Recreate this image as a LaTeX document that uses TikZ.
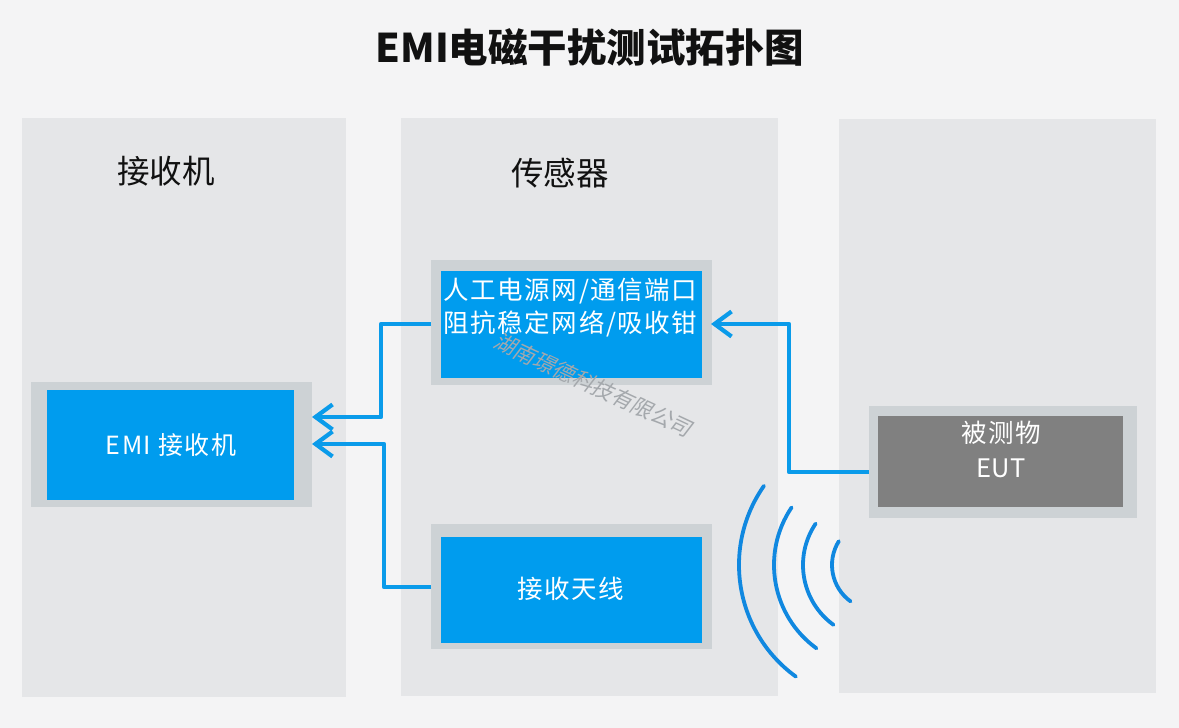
\documentclass[tikz,border=0pt]{standalone}
\usepackage{fontspec}
\usetikzlibrary{arrows.meta}
\setmainfont{Noto Sans CJK SC}
\newfontfamily\labfont[LetterSpace=6]{Noto Sans CJK SC}
\newfontfamily\latfont{Noto Sans CJK SC}
\newfontfamily\markfont[FakeSlant=0.22]{Noto Sans CJK SC}
\definecolor{bgc}{HTML}{F4F4F5}
\definecolor{panelc}{HTML}{E5E6E8}
\definecolor{outerc}{HTML}{CDD2D5}
\definecolor{bluec}{HTML}{009CEE}
\definecolor{grayc}{HTML}{808080}
\definecolor{wirec}{HTML}{0A9BEA}
\definecolor{wavec}{HTML}{1088E0}
\definecolor{titlec}{HTML}{111111}
\definecolor{markc}{HTML}{A4A8AC}
\tikzset{
  box/.style={anchor=north west,inner sep=0pt,outer sep=0pt,fill=#1},
  head/.style={anchor=center,inner sep=0pt,text=titlec,font=\fontsize{32.5}{38}\selectfont},
  lab/.style={anchor=center,inner sep=0pt,text=white,font=\labfont\fontsize{25.5}{30}\selectfont},
  wire/.style={draw=wirec,line width=4.2pt,line join=round},
  tip/.style={wire,-{Straight Barb[length=17pt,width=25pt,line width=4.2pt]}},
  wave/.style={draw=wavec,line width=3.8pt,line cap=round}
}
\begin{document}
\begin{tikzpicture}[x=1pt,y=-1pt]
\useasboundingbox (0,0) rectangle (1179,728);
\fill[bgc] (0,0) rectangle (1179,728);
\node[box=panelc,minimum width=324pt,minimum height=579pt] (p1) at (22,118) {};
\node[box=panelc,minimum width=377pt,minimum height=578pt] (p2) at (401,118) {};
\node[box=panelc,minimum width=317pt,minimum height=574pt] (p3) at (839,119) {};
\node[inner sep=0pt,text=titlec,font=\bfseries\fontsize{39.5}{44}\selectfont] (title) at (590,47) {EMI电磁干扰测试拓扑图};
\node[head] (h1) at (166,171) {接收机};
\node[head] (h2) at (560,173) {传感器};
\node[box=outerc,minimum width=281pt,minimum height=125pt] (ro) at (31,382) {};
\node[box=bluec,minimum width=247pt,minimum height=110pt] (ri) at (47,390) {};
\node[lab,font=\labfont\fontsize{25}{30}\selectfont] (rl) at (171,445) {EMI 接收机};
\node[box=outerc,minimum width=281pt,minimum height=125pt] (ao) at (431,260) {};
\node[box=bluec,minimum width=261pt,minimum height=107pt] (ai) at (441,271) {};
\node[lab] (al1) at (570.5,291) {人工电源网/通信端口};
\node[lab] (al2) at (570.5,324) {阻抗稳定网络/吸收钳};
\node[box=outerc,minimum width=281pt,minimum height=125pt] (bo) at (431,524) {};
\node[box=bluec,minimum width=261pt,minimum height=106pt] (bi) at (441,537) {};
\node[lab] (bl) at (571,589) {接收天线};
\node[box=outerc,minimum width=268pt,minimum height=112pt] (eo) at (869,406) {};
\node[box=grayc,minimum width=245pt,minimum height=91pt] (ei) at (878,416) {};
\node[lab] (el1) at (1001,433) {被测物};
\node[lab,font=\latfont\fontsize{25.5}{30}\selectfont] (el2) at (1001,468) {EUT};
\coordinate (ra) at (312,417);
\coordinate (rb) at (312,444);
\coordinate (ain) at (711,324);
\coordinate (aout) at (431,324);
\coordinate (bout) at (431,587);
\coordinate (eout) at (869,472);
\draw[tip] (aout) -- (381,324) -- (381,417) -- (ra);
\draw[tip] (bout) -- (384,587) -- (384,444) -- (rb);
\draw[tip] (eout) -- (789,472) -- (789,324) -- (ain);
\coordinate (wc) at (877,565);
\foreach \r/\a/\b in {138/-145/-234,103/-146/-234,74/-146/-234,45/-148/-234}{
  \draw[wave] (wc) ++(\a:\r) arc[start angle=\a,end angle=\b,radius=\r];
}
\node[inner sep=0pt,rotate=-25,text=markc,font=\markfont\fontsize{21.5}{26}\selectfont] (wm) at (593,385) {湖南璟德科技有限公司};
\end{tikzpicture}
\end{document}
